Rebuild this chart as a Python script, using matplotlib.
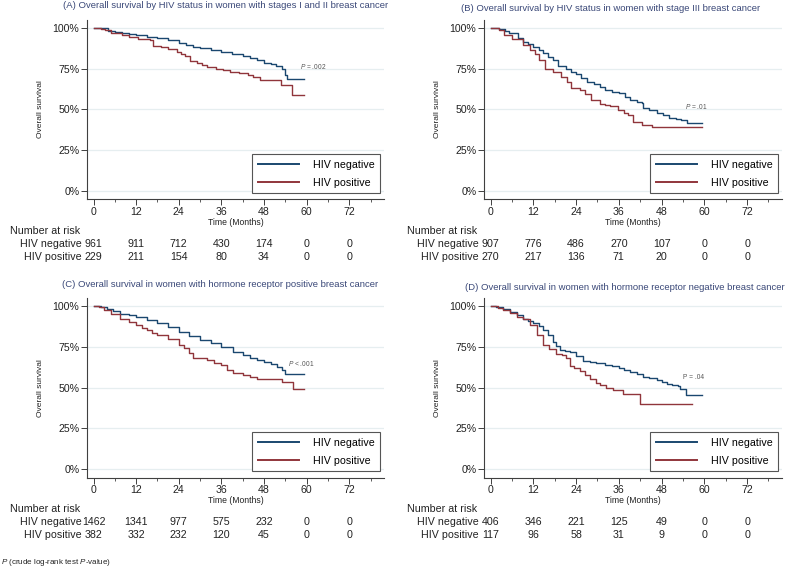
import matplotlib
matplotlib.use("Agg")
import matplotlib.pyplot as plt
import matplotlib.transforms as mtransforms
from matplotlib.ticker import FuncFormatter, MultipleLocator

plt.rcParams["font.family"] = ["Liberation Sans", "DejaVu Sans"]
plt.rcParams["mathtext.fontset"] = "custom"
plt.rcParams["mathtext.rm"] = "Liberation Sans"
plt.rcParams["mathtext.it"] = "Liberation Sans:italic"

# ── data ─────────────────────────────────────────────────────────────────────

titles = [
    "(A) Overall survival by HIV status in women with stages I and II breast cancer",
    "(B) Overall survival by HIV status in women with stage III breast cancer",
    "(C) Overall survival in women with hormone receptor positive breast cancer",
    "(D) Overall survival in women with hormone receptor negative breast cancer",
]
group_labels = ["HIV negative", "HIV positive"]
p_labels = [r"$\it{P}$ = .002", r"$\it{P}$ = .01", r"$\it{P}$ < .001", r"P = .04"]
risk_times = [0, 12, 24, 36, 48, 60, 72]

a_neg_t = [0, 2, 4, 6, 8, 10, 12, 15, 18, 21, 24, 26, 28, 30, 33, 36, 39, 42, 44,
           46, 48, 50, 51.5, 53, 53.8, 54.5, 59.4]
a_neg_s = [100, 99.5, 98.2, 97.3, 96.6, 96.0, 95.6, 94.5, 93.4, 92.3, 90.8, 89.6,
           88.3, 87.5, 86.3, 85.1, 83.6, 82.5, 81.3, 80.0, 78.5, 77.5, 76.5, 75.0,
           71.0, 68.8, 68.8]
a_pos_t = [0, 2, 3.2, 5, 7.9, 10, 12.6, 14, 15.8, 16.8, 19, 21, 23.4, 24.5, 25.7,
           27.1, 29, 30.4, 32, 34.6, 36.5, 38.3, 41, 43.5, 45, 46.8, 52.9, 56, 59.4]
a_pos_s = [100, 99.3, 98.4, 96.8, 95.3, 94.3, 93.3, 92.8, 92.2, 88.8, 88.0, 87.1,
           85.1, 84.0, 82.5, 79.4, 78.3, 77.0, 76.0, 74.9, 74.0, 72.9, 72.0, 70.8,
           69.6, 67.8, 64.7, 58.6, 58.6]

b_neg_t = [0, 1.5, 2.5, 4, 5.3, 7.7, 9.1, 10.5, 12, 13.5, 14.7, 16, 17.5, 19, 21.3,
           22.5, 24, 25.5, 27, 29, 30.7, 32.1, 34, 36, 37.7, 39, 41, 42.4, 42.9,
           44.5, 46.6, 48.5, 50.2, 52, 53.5, 55.1, 59.3]
b_neg_s = [100, 99.5, 99.0, 97.8, 96.5, 93.5, 91.4, 90.0, 88.4, 86.5, 84.3, 82.3,
           80.2, 76.5, 74.5, 73.0, 71.6, 69.3, 66.9, 65.3, 63.9, 61.7, 60.8, 59.8,
           57.5, 55.7, 54.8, 53.7, 50.6, 49.5, 47.6, 46.5, 45.0, 44.3, 43.2, 41.5,
           41.5]
b_pos_t = [0, 1.5, 2.5, 3.9, 6, 9.1, 11, 12.4, 13.5, 15.2, 17.5, 19.9, 21.5, 22.7,
           25, 26.4, 28.3, 30.7, 32.1, 33.5, 35.8, 37.5, 38.6, 40, 42.4, 45.2, 59.3]
b_pos_s = [100, 99.5, 98.6, 95.4, 93.0, 89.4, 86.5, 84.0, 80.0, 74.5, 73.0, 69.5,
           66.5, 63.0, 61.8, 59.6, 55.5, 53.0, 52.5, 51.8, 49.5, 47.5, 46.3, 42.4,
           40.6, 39.0, 39.0]

c_neg_t = [0, 2, 3.75, 5.5, 7.5, 10, 12, 15, 17.8, 21, 24, 27, 30, 33, 36, 39.4,
           42, 44, 46, 48, 50, 51.6, 53, 54, 59.3]
c_neg_s = [100, 99.5, 98.4, 97.0, 95.3, 94.3, 93.3, 91.5, 89.6, 87.0, 84.0, 81.8,
           79.4, 77.2, 75.0, 71.9, 70.0, 68.4, 67.2, 65.8, 64.3, 62.7, 60.7, 58.2,
           58.2]
c_pos_t = [0, 1.5, 2.8, 5, 7.5, 10, 12, 13.5, 15, 16.5, 17.8, 21, 24, 25.5, 27, 28,
           30, 31.9, 34, 36, 37.5, 39.4, 42, 44, 46, 47.8, 53, 56.2, 59.3]
c_pos_s = [100, 99.2, 97.4, 94.8, 92.3, 90.2, 88.2, 86.5, 85.1, 83.6, 82.1, 79.5,
           76.0, 74.0, 71.0, 68.4, 68.0, 66.8, 65.3, 63.7, 61.0, 58.7, 57.7, 56.6,
           55.6, 55.0, 53.2, 49.1, 49.1]

d_neg_t = [0, 1.5, 3.5, 5.5, 7.5, 9.1, 10.5, 12, 13.5, 14.7, 16, 17.5, 18.5, 19.4,
           21, 22.2, 24, 26, 28, 29.7, 32, 34, 36, 37.5, 39.1, 41, 42.9, 44.5,
           46.6, 48, 49.4, 51, 52.7, 53.2, 54.9, 59.3]
d_neg_s = [100, 99.5, 98.4, 96.5, 94.5, 92.3, 91.0, 89.6, 87.5, 85.1, 82.0, 78.0,
           75.5, 72.9, 72.3, 71.9, 69.5, 66.2, 65.5, 64.8, 64.0, 63.3, 62.3, 61.0,
           59.7, 58.5, 56.6, 55.8, 54.6, 53.5, 52.5, 51.8, 51.3, 49.4, 45.4, 45.4]
d_pos_t = [0, 2, 3.5, 5.5, 7.5, 9.1, 11, 12.9, 14.7, 16.5, 18.5, 20, 21.3, 22.2,
           23.5, 25, 26.5, 27.9, 29.5, 30.7, 32.5, 34.4, 37.2, 42, 56.5]
d_pos_s = [100, 98.5, 97.4, 95.5, 93.5, 92.3, 88.2, 82.1, 76.0, 73.5, 70.9, 69.8,
           68.4, 63.1, 61.8, 60.3, 57.5, 55.2, 53.0, 51.5, 50.0, 48.4, 46.4, 39.9,
           39.9]

a_risk_neg = [961, 911, 712, 430, 174, 0, 0]
a_risk_pos = [229, 211, 154, 80, 34, 0, 0]
b_risk_neg = [907, 776, 486, 270, 107, 0, 0]
b_risk_pos = [270, 217, 136, 71, 20, 0, 0]
c_risk_neg = [1462, 1341, 977, 575, 232, 0, 0]
c_risk_pos = [382, 332, 232, 120, 45, 0, 0]
d_risk_neg = [406, 346, 221, 125, 49, 0, 0]
d_risk_pos = [117, 96, 58, 31, 9, 0, 0]

# p-value label anchors (month, survival %)
p_pos = [(61.8, 76.0), (57.9, 51.6), (58.6, 64.8), (57.1, 56.0)]

# ── layout / style ───────────────────────────────────────────────────────────

W, H = 787, 566
BLUE = "#1a476f"
RED = "#90353b"
TITLE_C = "#3a4878"
GRID_C = "#e6eef0"
AX_C = "#404040"

rects = [
    (87 / W, 1 - 199.2 / H, 297 / W, 179.7 / H),
    (484 / W, 1 - 199.2 / H, 298 / W, 179.7 / H),
    (87 / W, 1 - 477.5 / H, 297 / W, 179.7 / H),
    (484 / W, 1 - 477.5 / H, 298 / W, 179.7 / H),
]
title_xy = [(0.466, 1.080), (0.426, 1.062), (0.449, 1.075), (0.471, 1.060)]

curves = [
    (a_neg_t, a_neg_s, a_pos_t, a_pos_s),
    (b_neg_t, b_neg_s, b_pos_t, b_pos_s),
    (c_neg_t, c_neg_s, c_pos_t, c_pos_s),
    (d_neg_t, d_neg_s, d_pos_t, d_pos_s),
]
risks = [
    (a_risk_neg, a_risk_pos),
    (b_risk_neg, b_risk_pos),
    (c_risk_neg, c_risk_pos),
    (d_risk_neg, d_risk_pos),
]

fig = plt.figure(figsize=(W / 100, H / 100), dpi=100)

for i in range(4):
    ax = fig.add_axes(rects[i])
    neg_t, neg_s, pos_t, pos_s = curves[i]
    ax.step(neg_t, neg_s, where="post", color=BLUE, lw=1.0, label=group_labels[0])
    ax.step(pos_t, pos_s, where="post", color=RED, lw=1.0, label=group_labels[1])

    ax.set_xlim(-1.85, 81.8)
    ax.set_ylim(-5, 105)
    ax.set_xticks(risk_times)
    ax.xaxis.set_minor_locator(MultipleLocator(6))
    ax.set_yticks([0, 25, 50, 75, 100])
    ax.yaxis.set_major_formatter(FuncFormatter(lambda v, _: f"{v:.0f}%"))
    ax.grid(axis="y", color=GRID_C, lw=0.9)
    ax.set_axisbelow(True)
    for s in ["top", "right"]:
        ax.spines[s].set_visible(False)
    for s in ["left", "bottom"]:
        ax.spines[s].set_color(AX_C)
        ax.spines[s].set_linewidth(0.8)
    ax.tick_params(axis="both", which="major", length=4, width=0.7, color=AX_C,
                   labelsize=7.6, pad=1.5, labelcolor="#222222")
    ax.tick_params(axis="x", which="minor", length=2.5, width=0.6, color=AX_C)

    ax.set_xlabel("Time (Months)", fontsize=6.2, labelpad=0.5, color="#222222")
    ax.set_ylabel("Overall survival", fontsize=6.0, labelpad=6, color="#222222")

    ax.text(title_xy[i][0], title_xy[i][1], titles[i], transform=ax.transAxes,
            ha="center", va="center", fontsize=6.8, color=TITLE_C)

    px, py = p_pos[i]
    ax.text(px, py, p_labels[i], ha="center", va="center", fontsize=4.8,
            color="#555555")

    leg = ax.legend(loc="lower right", bbox_to_anchor=(0.988, 0.035),
                    borderaxespad=0, fancybox=False, fontsize=7.7,
                    handlelength=3.9, handletextpad=1.3, labelspacing=0.75,
                    borderpad=0.5, framealpha=1)
    leg.get_frame().set_edgecolor("#555555")
    leg.get_frame().set_linewidth(0.8)
    for h in leg.get_lines():
        h.set_linewidth(1.4)

    # number-at-risk table under the axis
    tr = mtransforms.blended_transform_factory(ax.transData, ax.transAxes)
    ax.text(-23.4, -0.177, "Number at risk", transform=tr, ha="left",
            va="center", fontsize=7.7, color="#222222")
    for row, (lab, vals) in enumerate(zip(group_labels, risks[i])):
        y = -0.249 - row * 0.073
        ax.text(-3.4, y, lab, transform=tr, ha="right", va="center",
                fontsize=7.7, color="#222222")
        for t, v in zip(risk_times, vals):
            ax.text(t, y, str(v), transform=tr, ha="center", va="center",
                    fontsize=7.7, color="#222222")

fig.text(1 / W, 1 - 562 / H, r"$\it{P}$ (crude log-rank test $\it{P}$-value)",
         ha="left", va="center", fontsize=5.8, color="#222222")

fig.savefig("out.png", dpi=100)
